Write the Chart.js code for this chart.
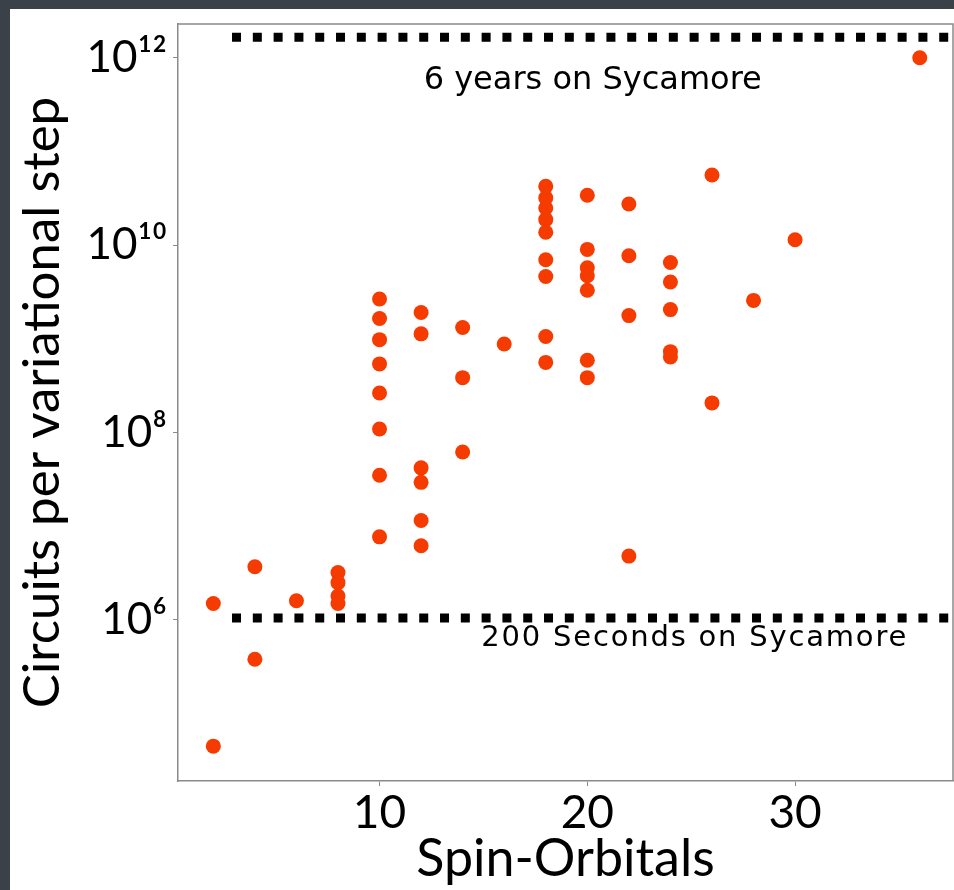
<!DOCTYPE html>
<html><head><meta charset="utf-8">
<script src="https://cdn.jsdelivr.net/npm/chart.js@4"></script>
<style>
html,body{margin:0;padding:0;background:#3b4148;width:954px;height:890px;overflow:hidden}
#wrap{position:absolute;left:10px;top:9px;width:944px;height:881px;background:#fff}
canvas{display:block}
</style></head><body><div id="wrap"><canvas id="c" width="944" height="881"></canvas></div>
<script>
// ---- data ----
const spinOrbitals = [
  2, 2,
  4, 4,
  6,
  8, 8, 8, 8,
  10, 10, 10, 10, 10, 10, 10, 10,
  12, 12, 12, 12, 12, 12,
  14, 14, 14,
  16,
  18, 18, 18, 18, 18, 18, 18, 18, 18,
  20, 20, 20, 20, 20, 20, 20,
  22, 22, 22, 22,
  24, 24, 24, 24, 24,
  26, 26,
  28,
  30,
  36
];
const circuits = [
  1.5e6, 4.5e4,
  3.7e6, 3.8e5,
  1.6e6,
  3.2e6, 2.5e6, 1.8e6, 1.5e6,
  2.66e9, 1.65e9, 9.8e8, 5.4e8, 2.64e8, 1.09e8, 3.5e7, 7.7e6,
  1.91e9, 1.13e9, 4.2e7, 2.94e7, 1.15e7, 6.2e6,
  1.32e9, 3.85e8, 6.2e7,
  8.8e8,
  4.24e10, 3.19e10, 2.49e10, 1.87e10, 1.37e10, 6.99e9, 4.63e9, 1.06e9, 5.6e8,
  3.41e10, 9.0e9, 5.74e9, 4.71e9, 3.3e9, 5.9e8, 3.85e8,
  2.75e10, 7.7e9, 1.77e9, 4.8e6,
  6.53e9, 4.04e9, 2.05e9, 7.3e8, 6.4e8,
  5.6e10, 2.07e8,
  2.57e9,
  1.14e10,
  1.0e12
];
const xTicks = [10, 20, 30];
const xTickLabels = ['10', '20', '30'];
const yTicks = [1e6, 1e8, 1e10, 1e12];
const yTickLabels = ['10\u2076', '10\u2078', '10\u00B9\u2070', '10\u00B9\u00B2'];
const xTitle = 'Spin-Orbitals';
const yTitle = 'Circuits per variational step';
const xRange = [0.3, 37.6];
const yRange = [1.91e4, 2.29e12];
// reference lines (circuits) and their captions
const thresholdValues = [1.05e6, 1.65e12];
const thresholdStart = 2.9;
const thresholdLabels = ['200 Seconds on Sycamore', '6 years on Sycamore'];
const thresholdLabelX = [25.17, 20.26];
const thresholdLabelY = [5.3e5, 4.6e11];

const DOT = '#f53b00';
const AXIS = '#8a8a8a';

const framePlugin = {
  id: 'frame',
  beforeDatasetsDraw(chart) {
    const {ctx, chartArea: a} = chart;
    ctx.save();
    ctx.strokeStyle = AXIS;
    ctx.lineWidth = 1.5;
    ctx.beginPath();
    ctx.moveTo(a.left, a.top); ctx.lineTo(a.right, a.top); ctx.lineTo(a.right, a.bottom);
    ctx.stroke();
    ctx.restore();
  }
};
const captionPlugin = {
  id: 'captions',
  afterDatasetsDraw(chart) {
    const {ctx, scales} = chart;
    ctx.save();
    ctx.fillStyle = '#000';
    ctx.textAlign = 'center';
    ctx.textBaseline = 'alphabetic';
    thresholdLabels.forEach((t, i) => {
      ctx.font = (i === 0 ? '29px' : '32px') + ' "DejaVu Sans"';
      if ('letterSpacing' in ctx) ctx.letterSpacing = (i === 0 ? '1.8px' : '0px');
      ctx.fillText(t, scales.x.getPixelForValue(thresholdLabelX[i]), scales.y.getPixelForValue(thresholdLabelY[i]));
    });
    ctx.restore();
  }
};

const lineDatasets = thresholdValues.map(v => ({
  type: 'line',
  data: [{x: thresholdStart, y: v}, {x: xRange[1], y: v}],
  borderColor: '#000',
  borderWidth: 9,
  borderDash: [9, 11.8],
  borderCapStyle: 'butt',
  pointRadius: 0,
  showLine: true,
  fill: false,
  order: 2
}));

new Chart(document.getElementById('c'), {
  type: 'scatter',
  data: {
    datasets: [{
      data: spinOrbitals.map((x, i) => ({x, y: circuits[i]})),
      backgroundColor: DOT,
      borderColor: DOT,
      borderWidth: 0,
      pointBorderWidth: 0,
      pointRadius: 7.5,
      pointHoverRadius: 7.5,
      order: 1
    }, ...lineDatasets]
  },
  options: {
    responsive: false,
    animation: false,
    events: [],
    layout: {autoPadding: false, padding: {top: 15, right: 1, left: 0, bottom: 0}},
    plugins: {legend: {display: false}, tooltip: {enabled: false}},
    scales: {
      x: {
        type: 'linear', min: xRange[0], max: xRange[1],
        afterBuildTicks: s => { s.ticks = xTicks.map(v => ({value: v})); },
        afterFit: s => { s.height = 109; s.paddingLeft = 0; s.paddingRight = 0; },
        grid: {display: true, drawOnChartArea: false, tickLength: 5, color: AXIS, tickColor: AXIS},
        border: {color: AXIS, width: 1.5},
        ticks: {font: {family: 'Lato', size: 46}, color: '#000', padding: 0, maxRotation: 0,
          callback: (v) => xTickLabels[xTicks.indexOf(v)] ?? ''},
        title: {display: true, text: xTitle, font: {family: 'Lato', size: 52}, color: '#000', padding: {top: 0, bottom: 0}}
      },
      y: {
        type: 'logarithmic', min: yRange[0], max: yRange[1],
        afterBuildTicks: s => { s.ticks = yTicks.map(v => ({value: v})); },
        afterFit: s => { s.width = 168; s.paddingTop = 0; s.paddingBottom = 0; },
        grid: {display: true, drawOnChartArea: false, tickLength: 5, color: AXIS, tickColor: AXIS},
        border: {color: AXIS, width: 1.5},
        ticks: {font: {family: 'Lato', size: 44}, color: '#000', padding: 6,
          callback: (v) => yTickLabels[yTicks.indexOf(v)] ?? ''},
        title: {display: true, text: yTitle, font: {family: 'Lato', size: 51}, color: '#000', padding: {top: 2, bottom: 0}}
      }
    }
  },
  plugins: [framePlugin, captionPlugin]
});
</script></body></html>
